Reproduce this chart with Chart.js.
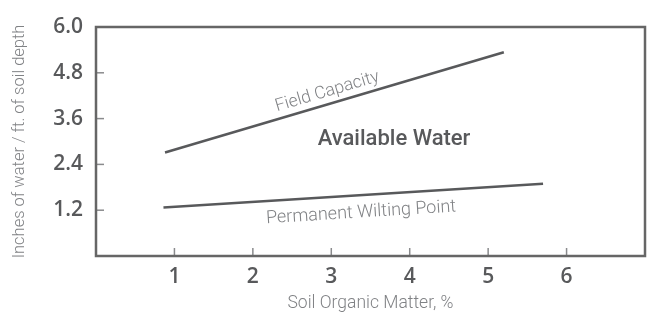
<!DOCTYPE html>
<html lang="en">
<head>
  <meta charset="UTF-8">
  <title>Available Water vs Soil Organic Matter</title>
  <script src="https://cdn.jsdelivr.net/npm/chart.js@4.4.0/dist/chart.umd.min.js"></script>
  <style>
    body { margin: 0; background: #fff; }
    #wrap { width: 647px; height: 314px; }
  </style>
</head>
<body>
  <div id="wrap"><canvas id="chart" width="647" height="314"></canvas></div>

  <script>
    // values
    const fieldX = [0.88, 5.2];
    const fieldCapacity = [2.71, 5.34];
    const wiltX = [0.86, 5.7];
    const wiltingPoint = [1.27, 1.89];
    const xTicks = [1, 2, 3, 4, 5, 6];
    const yTicks = [1.2, 2.4, 3.6, 4.8, 6.0];

    const ink = '#58595b';
    const soft = '#808285';

    function pts(xs, ys) {
      return xs.map((x, i) => ({ x: x, y: ys[i] }));
    }

    // frame + inward tick marks + in-chart labels
    const decor = {
      id: 'decor',
      afterDraw(chart) {
        const ctx = chart.ctx;
        const a = chart.chartArea;
        const sx = chart.scales.x, sy = chart.scales.y;
        ctx.save();

        ctx.strokeStyle = '#8a8b8d';
        ctx.lineWidth = 1.5;
        xTicks.forEach(v => {
          const px = sx.getPixelForValue(v);
          ctx.beginPath(); ctx.moveTo(px, a.bottom); ctx.lineTo(px, a.bottom - 8); ctx.stroke();
        });
        yTicks.forEach(v => {
          const py = sy.getPixelForValue(v);
          ctx.beginPath(); ctx.moveTo(a.left, py); ctx.lineTo(a.left + 8, py); ctx.stroke();
        });

        ctx.strokeStyle = '#666';
        ctx.lineWidth = 2.5;
        ctx.strokeRect(a.left, a.top, a.right - a.left, a.bottom - a.top);

        function label(text, x, y, xs, ys, font, color) {
          const px = sx.getPixelForValue(x), py = sy.getPixelForValue(y);
          let ang = 0;
          if (xs) {
            const dx = sx.getPixelForValue(xs[1]) - sx.getPixelForValue(xs[0]);
            const dy = sy.getPixelForValue(ys[1]) - sy.getPixelForValue(ys[0]);
            ang = Math.atan2(dy, dx);
          }
          ctx.save();
          ctx.translate(px, py);
          ctx.rotate(ang);
          ctx.font = font;
          ctx.fillStyle = color;
          ctx.textAlign = 'center';
          ctx.textBaseline = 'middle';
          ctx.fillText(text, 0, 0);
          ctx.restore();
        }
        label('Field Capacity', 2.95, 4.30, fieldX, fieldCapacity, '300 17.5px Roboto', soft);
        label('Available Water', 3.80, 3.04, null, null, '500 22px Roboto', ink);
        label('Permanent Wilting Point', 3.38, 1.13, wiltX, wiltingPoint, '300 18px Roboto', soft);
        ctx.restore();
      }
    };

    new Chart(document.getElementById('chart'), {
      type: 'line',
      data: {
        datasets: [
          { label: 'Field Capacity', data: pts(fieldX, fieldCapacity) },
          { label: 'Permanent Wilting Point', data: pts(wiltX, wiltingPoint) }
        ]
      },
      options: {
        responsive: false,
        animation: false,
        layout: { padding: { top: 27, right: 2, left: 0, bottom: 0 } },
        elements: {
          line: { borderColor: ink, borderWidth: 2.5, tension: 0 },
          point: { radius: 0 }
        },
        plugins: { legend: { display: false }, tooltip: { enabled: false } },
        scales: {
          x: {
            type: 'linear',
            min: 0, max: 7,
            grid: { display: false },
            border: { display: false },
            afterBuildTicks: s => { s.ticks = xTicks.map(v => ({ value: v })); },
            ticks: { color: ink, font: { family: 'Open Sans', size: 21, weight: '600' }, padding: 0 },
            title: { display: true, text: 'Soil Organic Matter, %', color: soft,
                     font: { family: 'Roboto', size: 17.5, weight: '300' }, padding: { top: 0, bottom: 0 } },
            afterFit: s => { s.height = 58; }
          },
          y: {
            min: 0, max: 6,
            grid: { display: false },
            border: { display: false },
            afterBuildTicks: s => { s.ticks = yTicks.map(v => ({ value: v })); },
            ticks: { color: ink, font: { family: 'Open Sans', size: 21, weight: '600' }, padding: 5,
                     callback: v => Number(v).toFixed(1) },
            title: { display: true, text: 'Inches of water / ft. of soil depth', color: soft,
                     font: { family: 'Roboto', size: 16.5, weight: '300' }, padding: { top: 10, bottom: 0 } },
            afterFit: s => { s.width = 96; }
          }
        }
      },
      plugins: [decor]
    });
  </script>
</body>
</html>
